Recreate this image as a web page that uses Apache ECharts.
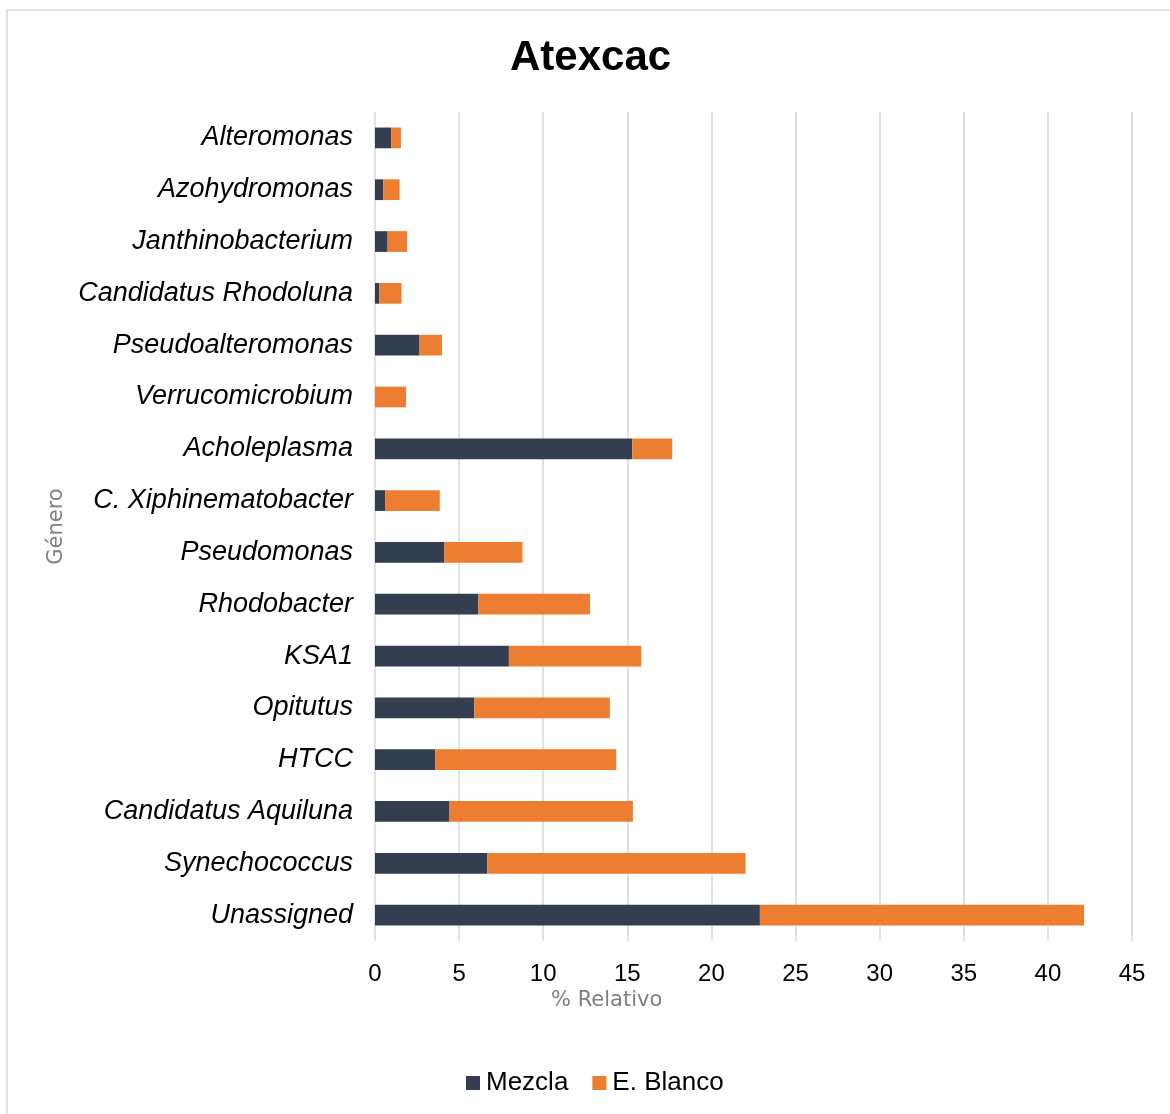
<!DOCTYPE html>
<html>
<head>
<meta charset="utf-8">
<title>Atexcac</title>
<script src="https://cdn.jsdelivr.net/npm/echarts@6/dist/echarts.min.js"></script>
<style>
  html, body { margin: 0; padding: 0; background: #ffffff; }
  #chart { width: 1170px; height: 1114px; }
</style>
</head>
<body>
<div id="chart"></div>
<script>
// Genera listed top to bottom
const generos = [
  'Alteromonas', 'Azohydromonas', 'Janthinobacterium', 'Candidatus Rhodoluna',
  'Pseudoalteromonas', 'Verrucomicrobium', 'Acholeplasma', 'C. Xiphinematobacter',
  'Pseudomonas', 'Rhodobacter', 'KSA1', 'Opitutus', 'HTCC',
  'Candidatus Aquiluna', 'Synechococcus', 'Unassigned'
];

// Relative abundance (%) per sample
const mezcla = [0.96, 0.49, 0.75, 0.25, 2.65, 0, 15.29, 0.6, 4.11, 6.14, 7.96, 5.9, 3.58, 4.43, 6.67, 22.88];
const blanco = [0.58, 0.97, 1.16, 1.33, 1.33, 1.84, 2.38, 3.25, 4.66, 6.64, 7.87, 8.06, 10.76, 10.9, 15.36, 19.27];

const xTicks = [0, 5, 10, 15, 20, 25, 30, 35, 40, 45];

const chart = echarts.init(document.getElementById('chart'), null, { renderer: 'canvas' });

const baseFont = 'Liberation Sans, Arial, sans-serif';

chart.setOption({
  backgroundColor: '#ffffff',
  animation: false,
  title: {
    text: 'Atexcac',
    left: 505,
    top: 32,
    textStyle: { fontFamily: baseFont, fontSize: 42, fontWeight: 'bold', color: '#000000' }
  },
  legend: {
    bottom: 13,
    left: 461,
    itemWidth: 14,
    itemHeight: 14,
    itemGap: 24,
    icon: 'rect',
    textStyle: { fontFamily: baseFont, fontSize: 26, color: '#000000', padding: [0, 0, 0, 1] },
    data: ['Mezcla', 'E. Blanco']
  },
  grid: { left: 375, right: 38, top: 112, bottom: 173, containLabel: false },
  xAxis: {
    type: 'value',
    min: xTicks[0],
    max: xTicks[xTicks.length - 1],
    interval: 5,
    axisLine: { show: false },
    axisTick: { show: false },
    axisLabel: { fontFamily: baseFont, fontSize: 24, color: '#000000', margin: 21 },
    splitLine: { show: true, lineStyle: { color: '#d9d9d9', width: 1.5 } }
  },
  yAxis: {
    type: 'category',
    data: generos,
    inverse: true,
    name: 'Género',
    nameLocation: 'middle',
    nameRotate: 90,
    nameGap: 303,
    nameTextStyle: { fontFamily: 'DejaVu Sans, sans-serif', fontSize: 21, color: '#7f7f7f' },
    axisLine: { show: false },
    axisTick: { show: false },
    axisLabel: {
      fontFamily: baseFont, fontSize: 27, fontStyle: 'italic', color: '#000000', margin: 22,
      padding: [3, 0, 0, 0]
    },
    splitLine: { show: false }
  },
  graphic: [
    {
      type: 'rect',
      shape: { x: 7, y: 10, width: 1170, height: 1120 },
      style: { fill: 'none', stroke: '#d9d9d9', lineWidth: 1.5 },
      silent: true,
      z: -10
    },
    {
      type: 'text',
      left: 551,
      top: 990,
      style: { text: '% Relativo', fontFamily: 'DejaVu Sans, sans-serif', fontSize: 21, fill: '#7f7f7f' }
    }
  ],
  series: [
    {
      name: 'Mezcla',
      type: 'bar',
      stack: 'total',
      data: mezcla,
      barWidth: '40%',
      itemStyle: { color: '#333f50' }
    },
    {
      name: 'E. Blanco',
      type: 'bar',
      stack: 'total',
      data: blanco,
      barWidth: '40%',
      itemStyle: { color: '#ed7d31' }
    }
  ]
});
</script>
</body>
</html>
